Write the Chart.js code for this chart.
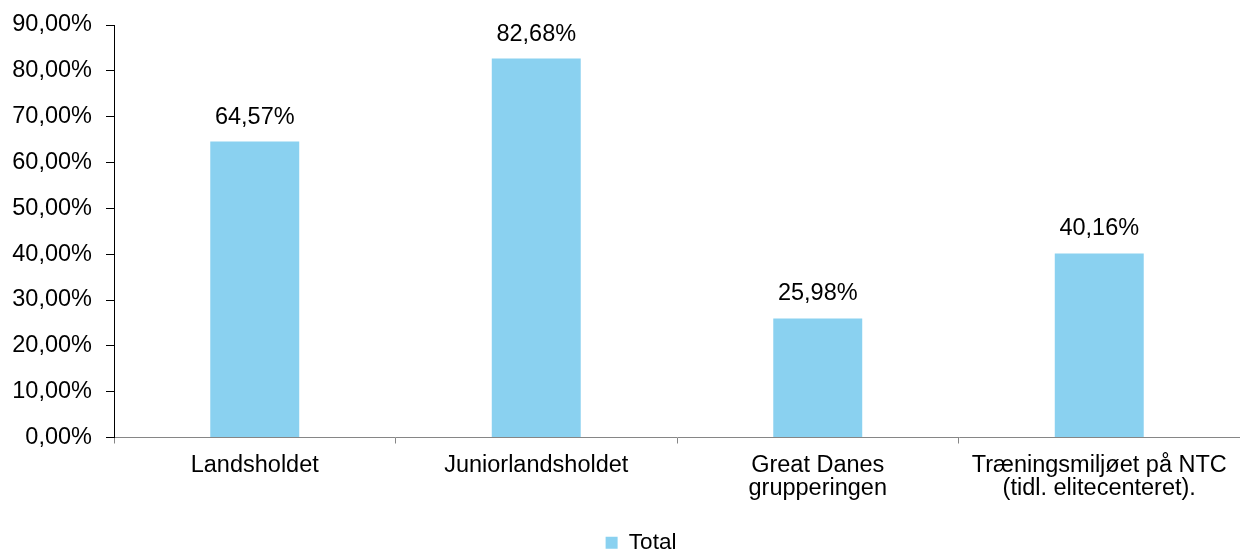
<!DOCTYPE html>
<html>
<head>
<meta charset="utf-8">
<script src="https://cdn.jsdelivr.net/npm/chart.js@4/dist/chart.umd.min.js"></script>
<style>
  body { margin: 0; background: #fff; }
</style>
</head>
<body>
<canvas id="chart" width="1240" height="551"></canvas>
<script>
// data
const categories = [
    "Landsholdet",
    "Juniorlandsholdet",
    ["Great Danes", "grupperingen"],
    ["Træningsmiljøet på NTC", "(tidl. elitecenteret)."]
];
const seriesName = "Total";
const values = [64.57, 82.68, 25.98, 40.16];
const yTicks = [0, 10, 20, 30, 40, 50, 60, 70, 80, 90];

const FONT = "'Liberation Sans', Arial, sans-serif";
const FONT_SIZE = 23.5;
const BAR_COLOR = "#8ad1f0";

function pct(v) {
    return v.toFixed(2).replace(".", ",") + "%";
}

// labels over the bars
const valueLabels = {
    id: "valueLabels",
    afterDatasetsDraw(chart) {
        const ctx = chart.ctx;
        const meta = chart.getDatasetMeta(0);
        ctx.save();
        ctx.font = FONT_SIZE + "px " + FONT;
        ctx.fillStyle = "#000";
        ctx.textAlign = "center";
        ctx.textBaseline = "middle";
        meta.data.forEach((bar, i) => {
            ctx.fillText(pct(values[i]), bar.x, bar.y - 24.5);
        });
        ctx.restore();
    }
};

// legend sits a bit right of centre in the original
const legendShift = {
    id: "legendShift",
    afterLayout(chart) {
        chart.legend.left += 21;
        chart.legend.right += 21;
    }
};

new Chart(document.getElementById("chart").getContext("2d"), {
    type: "bar",
    data: {
        labels: categories,
        datasets: [{
            label: seriesName,
            data: values,
            backgroundColor: BAR_COLOR,
            borderWidth: 0,
            categoryPercentage: 1,
            barPercentage: 0.316
        }]
    },
    options: {
        responsive: false,
        animation: false,
        devicePixelRatio: 1,
        layout: { padding: { top: 25, right: 0, bottom: -13, left: 0 } },
        scales: {
            x: {
                grid: {
                    offset: true,
                    drawOnChartArea: false,
                    tickLength: 6,
                    color: "#868686"
                },
                border: { color: "#868686", width: 1 },
                ticks: {
                    color: "#000",
                    padding: 10,
                    maxRotation: 0,
                    autoSkip: false,
                    font: { family: FONT, size: FONT_SIZE, lineHeight: 1.0 }
                },
                afterFit(scale) { scale.height = 84; }
            },
            y: {
                min: 0,
                max: 90,
                afterBuildTicks(scale) {
                    scale.ticks = yTicks.map(v => ({ value: v }));
                },
                grid: {
                    drawOnChartArea: false,
                    tickLength: 8,
                    color: "#000"
                },
                border: { color: "#000", width: 1 },
                ticks: {
                    color: "#000",
                    padding: 14,
                    font: { family: FONT, size: FONT_SIZE },
                    callback: v => pct(v)
                },
                afterFit(scale) {
                    scale.width = 114;
                    scale.paddingTop = 0;
                    scale.paddingBottom = 0;
                }
            }
        },
        plugins: {
            legend: {
                position: "bottom",
                labels: {
                    color: "#000",
                    boxWidth: 12,
                    boxHeight: 12,
                    padding: 10,
                    font: { family: FONT, size: 22.5 }
                }
            },
            tooltip: { enabled: false }
        }
    },
    plugins: [valueLabels, legendShift]
});
</script>
</body>
</html>
